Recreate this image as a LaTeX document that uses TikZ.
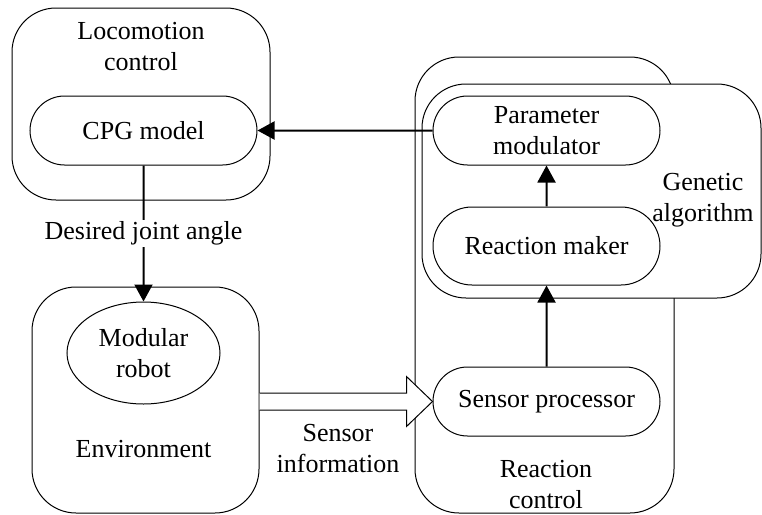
\documentclass[tikz,border=0pt]{standalone}
\usepackage{fontspec}
\setmainfont{Liberation Serif}
\usetikzlibrary{shapes.misc,shapes.geometric,arrows.meta,calc}

\begin{document}
\begin{tikzpicture}[x=0.5pt,y=-0.5pt,
		every node/.style={font=\fontsize{13}{15.5}\selectfont, align=center},
		group/.style={draw, line width=0.5pt, rounded corners=22pt, fill=white, inner sep=0pt},
		unit/.style={draw, line width=0.5pt, rounded rectangle, minimum width=113.5pt, minimum height=34.5pt, fill=white, inner sep=0pt},
		flow/.style={-{Triangle[length=8.5pt,width=9pt]}, line width=1pt},
		lbl/.style={fill=white, inner sep=1pt}]

		\useasboundingbox (0,0) rectangle (762,515);

		% outer groups
		\node[group, minimum width=129pt, minimum height=96pt] (loco) at (141,104) {};
		\node[group, minimum width=113.5pt, minimum height=113pt] (envbox) at (145.5,400) {};
		\node[group, minimum width=129.5pt, minimum height=228pt] (react) at (544.5,285) {};
		\node[group, minimum width=169.5pt, minimum height=107pt] (genetic) at (591.5,191) {};

		\node (locolbl) at (141,47) {Locomotion\\control};
		\node (envlbl) at (143.5,449) {Environment};
		\node (reactlbl) at (546,485) {Reaction\\control};
		\node (geneticlbl) at (703,200) {Genetic\\algorithm};

		% inner units
		\node[unit] (cpg) at (143.5,130.5) {CPG model};
		\node[unit] (pm) at (546.5,130.5) {Parameter\\modulator};
		\node[unit, minimum height=39pt] (rm) at (546.5,246) {Reaction maker};
		\node[unit] (sp) at (546.5,401.5) {Sensor processor};
		\node[draw, line width=0.5pt, ellipse, minimum width=76.5pt, minimum height=51pt, inner sep=0pt] (robot) at (143.5,353) {Modular\\robot};

		% connectors
		\draw[flow] (pm) -- (cpg);
		\draw[flow] (rm) -- (pm);
		\draw[flow] (sp) -- (rm);
		\draw[flow] (cpg) -- node[lbl] (anglelbl) {Desired joint angle} (robot);

		\draw[line width=0.5pt, fill=white] ($(envbox.east |- sp.west)+(0,-8.5)$) -- ($(sp.west)+(-26,-8.5)$)
			-- ($(sp.west)+(-26,-25)$) -- (sp.west) -- ($(sp.west)+(-26,25)$)
			-- ($(sp.west)+(-26,8.5)$) -- ($(envbox.east |- sp.west)+(0,8.5)$);
		\node (sensorlbl) at (338,449) {Sensor\\information};

\end{tikzpicture}
\end{document}
